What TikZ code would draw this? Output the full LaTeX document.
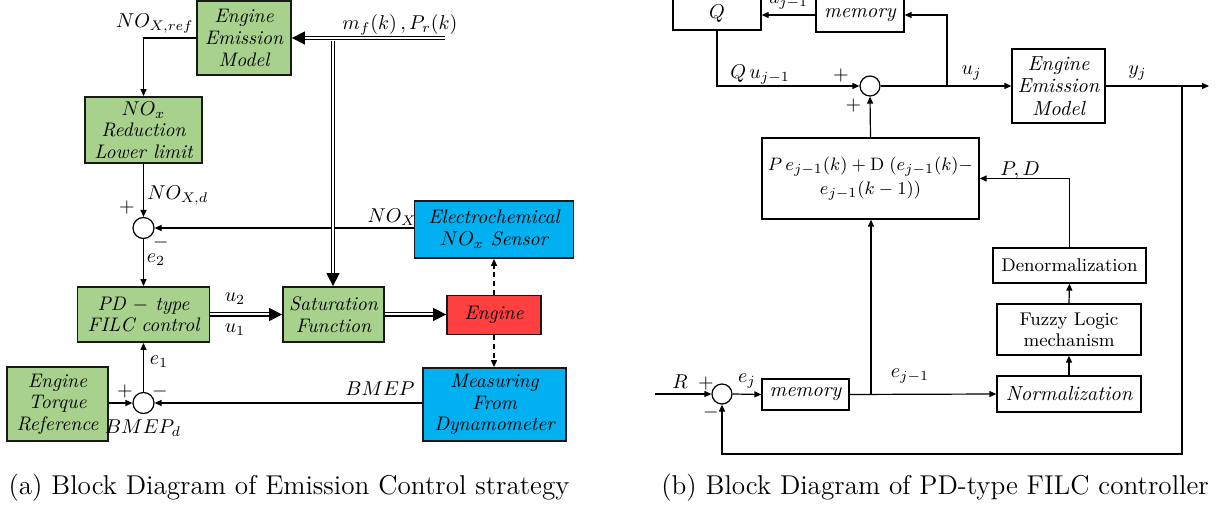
\documentclass[tikz,border=0pt]{standalone}
\usetikzlibrary{arrows.meta}
\definecolor{gfill}{HTML}{A9D18E}
\definecolor{bfill}{HTML}{00B0F0}
\definecolor{rfill}{HTML}{FF4040}
\newdimen\px \px=0.5pt
\begin{document}
\begin{tikzpicture}[x=0.5pt,y=-0.5pt,
 font=\fontsize{9.8}{10.8}\selectfont,
 boxa/.style={draw=black!90, line width=0.9pt, align=center, inner sep=0pt, font=\fontsize{9.8}{10.8}\selectfont\itshape},
 boxb/.style={draw, line width=0.65pt, align=center, inner sep=0pt, font=\fontsize{10.2}{11.2}\selectfont\itshape},
 boxu/.style={draw, line width=0.65pt, align=center, inner sep=0pt, font=\fontsize{9.2}{10.4}\selectfont},
 sumc/.style={circle, draw, line width=0.6pt, minimum size=21*\px, inner sep=0pt},
 arr/.style={line width=0.6pt, -{Triangle[length=3.5pt,width=3pt]}},
 dbl/.style={double, line width=0.7pt, double distance=1pt, -{Triangle[length=6.5pt,width=6.5pt]}},
 dsh/.style={line width=0.6pt, dash pattern=on 2.5pt off 1.8pt, -{Triangle[length=3.5pt,width=3pt]}},
 lab/.style={inner sep=0pt},
 captxt/.style={inner sep=0pt, font=\fontsize{13.6}{15}\selectfont}
]
\useasboundingbox (0,0) rectangle (1217,507);

% ---------------- panel (a) ----------------
\node[boxa, fill=gfill, minimum width=94*\px, minimum height=74*\px] (eemA) at (244,38) {Engine\\Emission\\Model};
\node[boxa, fill=gfill, minimum width=117*\px, minimum height=66*\px] (noxR) at (143.5,130) {$NO_x$\\Reduction\\Lower limit};
\node[sumc] (sum1) at (143.5,228) {};
\node[boxa, fill=gfill, minimum width=132*\px, minimum height=55*\px] (pd) at (143.5,314.5) {PD $-$ type\\FILC control};
\node[boxa, fill=gfill, minimum width=101*\px, minimum height=74*\px] (etr) at (57.5,404) {Engine\\Torque\\Reference};
\node[sumc] (sum2) at (143.5,403) {};
\node[boxa, fill=gfill, minimum width=101*\px, minimum height=55*\px] (sat) at (333.5,314.5) {Saturation\\Function};
\node[boxa, fill=rfill, minimum width=94*\px, minimum height=39*\px] (eng) at (494,315) {Engine};
\node[boxa, fill=bfill, minimum width=159*\px, minimum height=57*\px] (sens) at (494,229.5) {Electrochemical\\$NO_x$ Sensor};
\node[boxa, fill=bfill, minimum width=143*\px, minimum height=73*\px] (meas) at (494.5,404.5) {Measuring\\From\\Dynamometer};

\coordinate (minp) at (445,38);
\coordinate (jA) at (333,41);

\draw[arr] (eemA.west) -| (noxR.north);
\draw[arr] (noxR.south) -- (sum1.north);
\draw[arr] (sum1.south) -- (pd.north);
\draw[arr] (sum2.north) -- (pd.south);
\draw[arr] (etr.east |- sum2.west) -- (sum2.west);
\draw[arr] (sum1 -| sens.west) -- (sum1.east);
\draw[arr] (sum2 -| meas.west) -- (sum2.east);
\draw[dbl] (minp) -- (eemA.east);
\draw[dbl] (jA) -- (jA |- sat.north);
\draw[dbl] (pd.east) -- (sat.west);
\draw[dbl] (sat.east) -- (sat.east -| eng.west);
\draw[dsh] (eng.north) -- (sens.south);
\draw[dsh] (eng.south) -- (eng.south |- meas.north);

\node[lab, anchor=base east] (lref) at (194,28) {$NO_{X,ref}$};
\node[lab, anchor=base west] (lnd) at (147,200) {$NO_{X,d}$};
\node[lab] (p1) at (127,208) {$+$};
\node[lab] (m1) at (161,243) {$-$};
\node[lab] (le2) at (156,260) {$e_2$};
\node[lab] (lu2) at (235,299) {$u_2$};
\node[lab] (lu1) at (235,330) {$u_1$};
\node[lab] (le1) at (159,362) {$e_1$};
\node[lab] (p2) at (125,392) {$+$};
\node[lab] (m2) at (160,392) {$-$};
\node[lab] (lbd) at (143,428) {$BMEP_d$};
\node[lab] (lnx) at (392,217) {$NO_X$};
\node[lab] (lbm) at (380,389) {$BMEP$};
\node[lab] (lmf) at (400,25) {$m_f(k)\,,P_r(k)$};

% ---------------- panel (b) ----------------
\node[boxb, minimum width=88*\px, minimum height=32*\px] (qb) at (717,14) {$Q$};
\node[boxb, minimum width=88*\px, minimum height=34*\px] (memT) at (860,15) {memory};
\node[sumc, minimum size=20*\px] (sb1) at (870,86) {};
\node[boxb, minimum width=93*\px, minimum height=74*\px] (eemB) at (1058.5,86) {Engine\\Emission\\Model};
\node[boxb, font=\fontsize{9.4}{11.8}\selectfont, minimum width=217*\px, minimum height=81*\px] (pdB) at (870.5,178.5) {$P\,e_{j-1}(k)+\mathrm{D}\;(e_{j-1}(k)-$\\$e_{j-1}(k-1))$};
\node[boxu, minimum width=153*\px, minimum height=35*\px] (den) at (1069.5,265.5) {Denormalization};
\node[boxu, minimum width=144*\px, minimum height=51*\px] (fuz) at (1069,329.5) {Fuzzy Logic\\mechanism};
\node[boxb, minimum width=144*\px, minimum height=36*\px] (nor) at (1069,394) {Normalization};
\node[boxb, minimum width=87*\px, minimum height=31*\px] (memB) at (805.5,394.5) {memory};
\node[sumc, minimum size=20*\px] (sb2) at (722,394) {};

\coordinate (rin) at (655,394);
\coordinate (ujJ) at (947,86);
\coordinate (yjJ) at (1182,86);
\coordinate (outp) at (1209,86);
\coordinate (fbR) at (1182,454);
\coordinate (fbL) at (722,454);
\coordinate (ejJ) at (871,394);

\draw[arr] (memT.west) -- (memT.west -| qb.east);
\draw[arr] (ujJ) |- (memT.east);
\draw[arr] (qb.south) |- (sb1.west);
\draw[arr] (sb1.east) -- (eemB.west);
\draw[arr] (eemB.east) -- (outp);
\draw[arr] (yjJ) -- (fbR) -- (fbL) -- (sb2.south);
\draw[arr] (pdB.north) -- (sb1.south);
\draw[arr] (den.north) |- (pdB.east);
\draw[arr] (nor.north) -- (fuz.south);
\draw[arr] (fuz.north) -- (den.south);
\draw[arr] (rin) -- (sb2.west);
\draw[arr] (sb2.east) -- (memB.west);
\draw[arr] (memB.east) -- (nor.west);
\draw[arr] (ejJ) -- (ejJ |- pdB.south);

\node[lab, anchor=base] (luj1) at (788,4) {$u_{j-1}$};
\node[lab] (lqu) at (760,75) {$Q\,u_{j-1}$};
\node[lab] (pb1) at (841,76) {$+$};
\node[lab] (pb2) at (853.5,106) {$+$};
\node[lab] (luj) at (971.5,73) {$u_j$};
\node[lab] (lyj) at (1137.5,73) {$y_j$};
\node[lab] (lpd) at (1020,171) {$P,D$};
\node[lab] (lej1) at (910,376) {$e_{j-1}$};
\node[lab] (lR) at (680,382) {$R$};
\node[lab] (pb3) at (706,384) {$+$};
\node[lab] (mb3) at (711,413) {$-$};
\node[lab] (lej) at (747,381) {$e_j$};

% ---------------- captions ----------------
\node[captxt] (capA) at (289,488) {(a) Block Diagram of Emission Control strategy};
\node[captxt] (capB) at (935,488) {(b) Block Diagram of PD-type FILC controller};
\end{tikzpicture}
\end{document}
